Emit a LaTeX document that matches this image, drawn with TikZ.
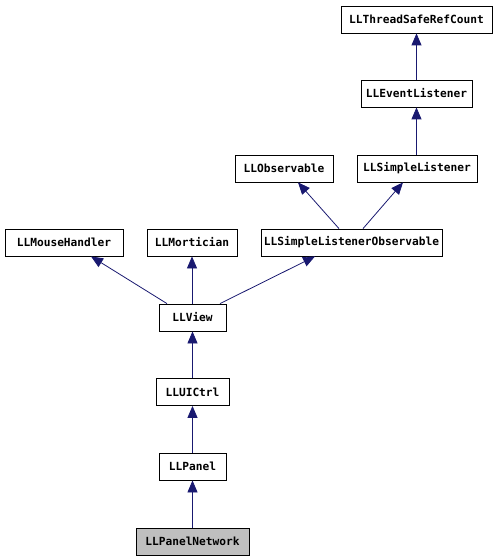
\documentclass[tikz,border=0pt]{standalone}
\usepackage{fontspec}
\newfontfamily\boxfont{DejaVu Sans Mono}
\usetikzlibrary{arrows.meta}
\definecolor{edgeblue}{HTML}{191970}
\begin{document}
\begin{tikzpicture}[x=1pt,y=-1pt,
  cls/.style={draw=black,line width=0.8pt,fill=white,inner sep=0pt,font=\boxfont\bfseries\fontsize{11.2}{13}\selectfont,minimum height=27pt},
  inh/.style={draw=edgeblue,line width=0.8pt,-{Triangle[length=12pt,width=10pt]}},
]
\useasboundingbox (0,0) rectangle (495,559);
\node[cls,minimum width=151pt] (tsrc) at (416.5,19.5) {LLThreadSafeRefCount};
\node[cls,minimum width=111pt] (evl) at (416.5,93.5) {LLEventListener};
\node[cls,minimum width=98pt] (obs) at (284,168.5) {LLObservable};
\node[cls,minimum width=120pt] (sl) at (417,168.5) {LLSimpleListener};
\node[cls,minimum width=181pt] (slo) at (351.5,242.5) {LLSimpleListenerObservable};
\node[cls,minimum width=118pt] (mh) at (64,242.5) {LLMouseHandler};
\node[cls,minimum width=90pt] (mort) at (192,242.5) {LLMortician};
\node[cls,minimum width=67pt] (view) at (192.5,317.5) {LLView};
\node[cls,minimum width=73pt] (ui) at (192.5,392) {LLUICtrl};
\node[cls,minimum width=67pt] (panel) at (192.5,466.5) {LLPanel};
\node[cls,minimum width=113pt,fill=black!25] (pn) at (192.5,541.5) {LLPanelNetwork};

\draw[inh] (evl.north) -- (tsrc.south);
\draw[inh] (sl.north -| evl.south) -- (evl.south);
\draw[inh] ([xshift=-12.5pt]slo.north) -- ([xshift=14pt]obs.south);
\draw[inh] ([xshift=11.5pt]slo.north) -- ([xshift=-14pt]sl.south);
\draw[inh] ([xshift=-25.5pt]view.north) -- ([xshift=27pt]mh.south);
\draw[inh] (view.north -| mort.south) -- (mort.south);
\draw[inh] ([xshift=27.5pt]view.north) -- ([xshift=-36.5pt]slo.south);
\draw[inh] (ui.north) -- (view.south);
\draw[inh] (panel.north) -- (ui.south);
\draw[inh] (pn.north) -- (panel.south);
\end{tikzpicture}
\end{document}
